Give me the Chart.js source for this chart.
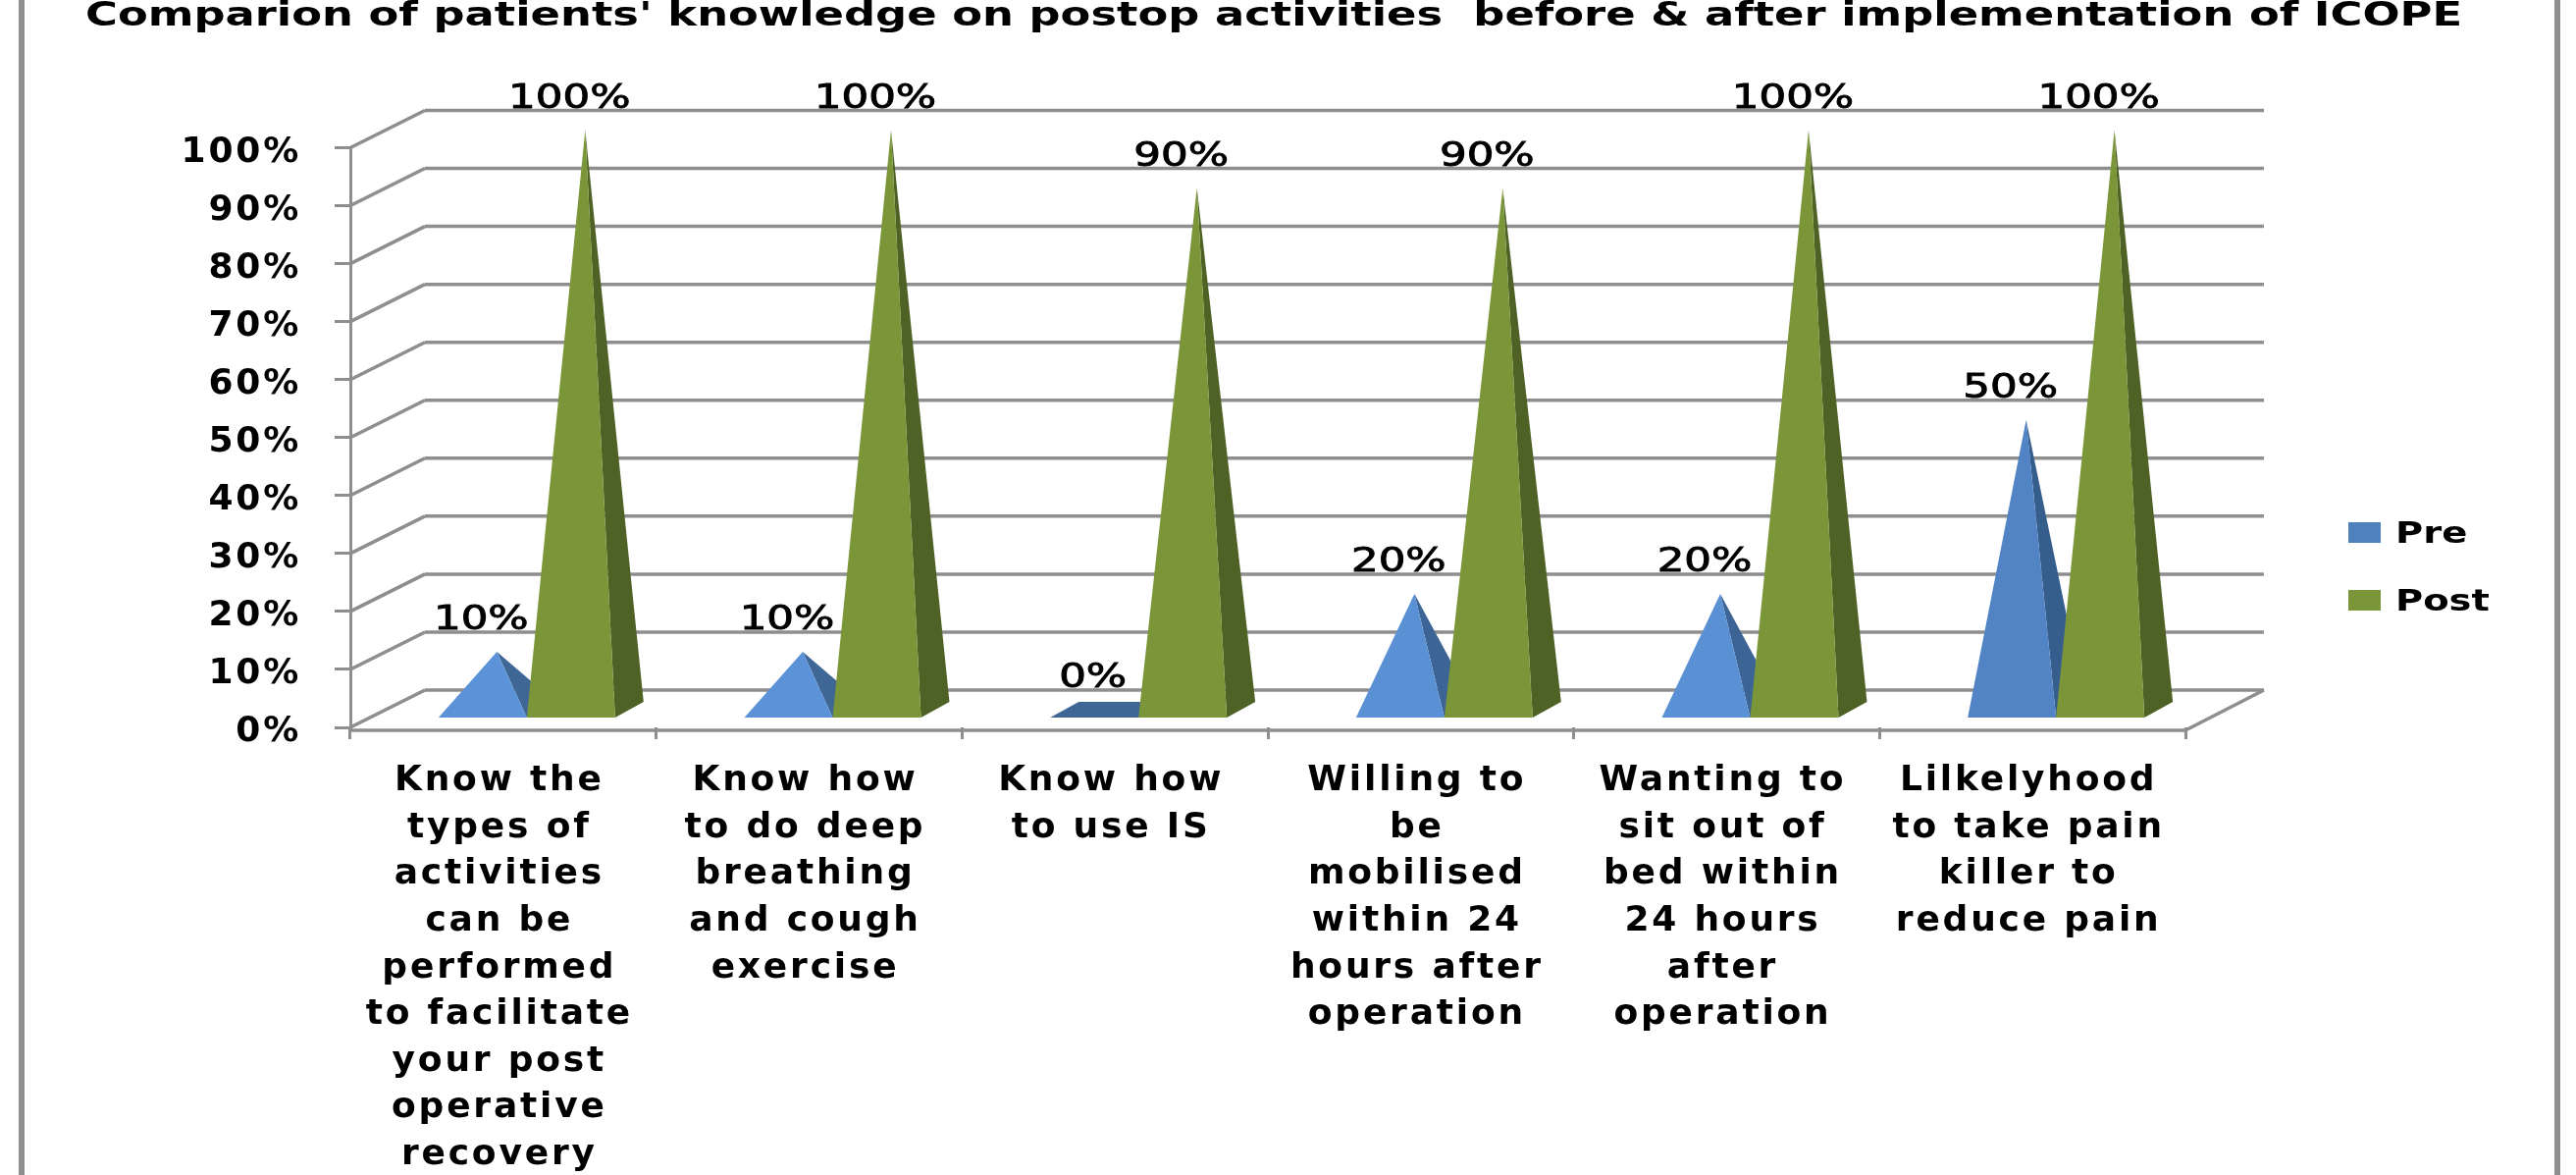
<!DOCTYPE html>
<html>
<head>
<meta charset="utf-8">
<style>
html,body{margin:0;padding:0;background:#fff;width:2625px;height:1197px;overflow:hidden}
canvas{display:block;filter:blur(0.6px)}
</style>
<script src="https://cdn.jsdelivr.net/npm/chart.js@4"></script>
</head>
<body>
<canvas id="c" width="2625" height="1197"></canvas>
<script>
const titleText = "Comparion of patients' knowledge on postop activities  before & after implementation of ICOPE";
const categories = [
  ["Know the","types of","activities","can be","performed","to facilitate","your post","operative","recovery"],
  ["Know how","to do deep","breathing","and cough","exercise"],
  ["Know how","to use IS"],
  ["Willing to","be","mobilised","within 24","hours after","operation"],
  ["Wanting to","sit out of","bed within","24 hours","after","operation"],
  ["Lilkelyhood","to take pain","killer to","reduce pain"]
];
const preValues = [10, 10, 0, 20, 20, 50];
const postValues = [100, 100, 90, 90, 100, 100];
const preFront = ['#5c93d8','#5c93d8','#3f6796','#5a91d5','#5a90d4','#5284c5'];
const preSide = ['#3f6796','#3f6796','#3f6796','#3c6494','#3c6494','#365e8d'];
const postFront = '#7b9639';
const postSide = '#4f6226';
const GREY = '#8e8e8e';
const DEPTH_X = 29, DEPTH_Y = 16;   // pyramid base depth
const WALL_X = 76, WALL_Y = 38;     // 3-D box depth
const SHIFT_X = 24, BASE_UP = 10, APEX_UP = 18;

function stretched(ctx, text, x, y, font, sx, align, stroke) {
  ctx.save();
  ctx.letterSpacing = '0px';
  ctx.font = font;
  ctx.fillStyle = '#000';
  ctx.strokeStyle = '#000';
  ctx.textBaseline = 'alphabetic';
  ctx.textAlign = align || 'center';
  ctx.translate(x, y);
  ctx.scale(sx, 1);
  ctx.fillText(text, 0, 0);
  if (stroke) { ctx.lineWidth = stroke; ctx.strokeText(text, 0, 0); }
  ctx.restore();
}

function line(ctx, x1, y1, x2, y2) {
  ctx.beginPath(); ctx.moveTo(x1, y1); ctx.lineTo(x2, y2); ctx.stroke();
}

function poly(ctx, pts, color) {
  ctx.fillStyle = color;
  ctx.beginPath();
  pts.forEach((p, i) => i ? ctx.lineTo(p[0], p[1]) : ctx.moveTo(p[0], p[1]));
  ctx.closePath();
  ctx.fill();
}

const scenePlugin = {
  id: 'scene',
  beforeDraw(chart) {
    const ctx = chart.ctx, a = chart.chartArea, ys = chart.scales.y;
    ctx.save();
    ctx.letterSpacing = '0px';
    ctx.fillStyle = '#fff';
    ctx.fillRect(0, 0, chart.width, chart.height);
    // outer frame
    ctx.fillStyle = GREY;
    ctx.fillRect(19, 0, 6, chart.height);
    ctx.fillRect(2603, 0, 6, chart.height);
    // walls
    ctx.strokeStyle = GREY;
    ctx.lineWidth = 3.5;
    ys.ticks.forEach(t => {
      const y = ys.getPixelForValue(t.value);
      line(ctx, a.left, y, a.left + WALL_X, y - WALL_Y);
      line(ctx, a.left + WALL_X, y - WALL_Y, a.right + WALL_X + 4, y - WALL_Y);
    });
    // floor
    line(ctx, a.left, a.bottom + 3, a.right, a.bottom + 3);
    line(ctx, a.right, a.bottom + 3, a.right + WALL_X + 4, a.bottom - WALL_Y);
    ctx.restore();
    ctx.letterSpacing = '2.8px';
  },
  beforeDatasetsDraw(chart) { chart.ctx.letterSpacing = '0px'; },
  beforeDatasetDraw() { return false; },
  afterDatasetsDraw(chart) {
    const ctx = chart.ctx, ys = chart.scales.y;
    ctx.save();
    const baseY = chart.chartArea.bottom - BASE_UP;
    const labels = [];
    categories.forEach((_, i) => {
      chart.data.datasets.forEach((ds, d) => {
        const el = chart.getDatasetMeta(d).data[i];
        const x0 = el.x - el.width / 2 + SHIFT_X, x1 = x0 + el.width;
        const v = ds.data[i];
        const ax = (x0 + x1) / 2 + DEPTH_X / 2;
        const ay = ys.getPixelForValue(v) - APEX_UP;
        const front = d === 0 ? preFront[i] : postFront;
        const side = d === 0 ? preSide[i] : postSide;
        if (v === 0) {
          poly(ctx, [[x0, baseY], [x0 + DEPTH_X, baseY - DEPTH_Y], [x1 + DEPTH_X, baseY - DEPTH_Y], [x1, baseY]], side);
        } else {
          poly(ctx, [[x1, baseY], [x1 + DEPTH_X, baseY - DEPTH_Y], [ax, ay]], side);
          poly(ctx, [[x0, baseY], [x1, baseY], [ax, ay]], front);
        }
        labels.push([v + '%', ax - 16, ay - 23]);
      });
    });
    labels.forEach(l => stretched(ctx, l[0], l[1], l[2], '34px "DejaVu Sans"', 1.28, 'center', 0.9));
    // title
    ctx.font = 'bold 34px "DejaVu Sans"';
    ctx.letterSpacing = '0px';
    const w = ctx.measureText(titleText).width;
    stretched(ctx, titleText, 87, 26, 'bold 34px "DejaVu Sans"', 2422 / w, 'left');
    // legend
    chart.data.datasets.forEach((ds, d) => {
      const top = d === 0 ? 532 : 601;
      ctx.fillStyle = ds.backgroundColor;
      ctx.fillRect(2393, top, 33, 21);
      stretched(ctx, ds.label, 2441, top + 21, 'bold 31px "DejaVu Sans"', 1.24, 'left');
    });
    ctx.restore();
  }
};

new Chart(document.getElementById('c'), {
  type: 'bar',
  data: {
    labels: categories,
    datasets: [
      { label: 'Pre', data: preValues, backgroundColor: '#4f81bd', barPercentage: 1, categoryPercentage: 0.5775 },
      { label: 'Post', data: postValues, backgroundColor: '#7b9639', barPercentage: 1, categoryPercentage: 0.5775 }
    ]
  },
  options: {
    responsive: false,
    animation: false,
    devicePixelRatio: 1,
    layout: { padding: { top: 150.5, right: 398, left: 0, bottom: 0 } },
    plugins: { legend: { display: false }, title: { display: false }, tooltip: { enabled: false } },
    scales: {
      x: {
        afterFit(s) { s.height = 456; },
        border: { display: false },
        grid: { drawOnChartArea: false, tickLength: 12, color: GREY, lineWidth: 3 },
        ticks: {
          autoSkip: false, maxRotation: 0, minRotation: 0, padding: 19, labelOffset: -4,
          color: '#000',
          font: { family: '"DejaVu Sans"', weight: 'bold', size: 36, lineHeight: 1.322 }
        }
      },
      y: {
        min: 0, max: 100,
        afterFit(s) { s.width = 357; },
        border: { display: true, color: GREY, width: 3 },
        grid: { drawOnChartArea: false, tickLength: 16, color: GREY, lineWidth: 3 },
        ticks: {
          stepSize: 10, padding: 34, labelOffset: 5, color: '#000',
          callback: v => v + '%',
          font: { family: '"DejaVu Sans"', weight: 'bold', size: 36 }
        }
      }
    }
  },
  plugins: [scenePlugin]
});
</script>
</body>
</html>
